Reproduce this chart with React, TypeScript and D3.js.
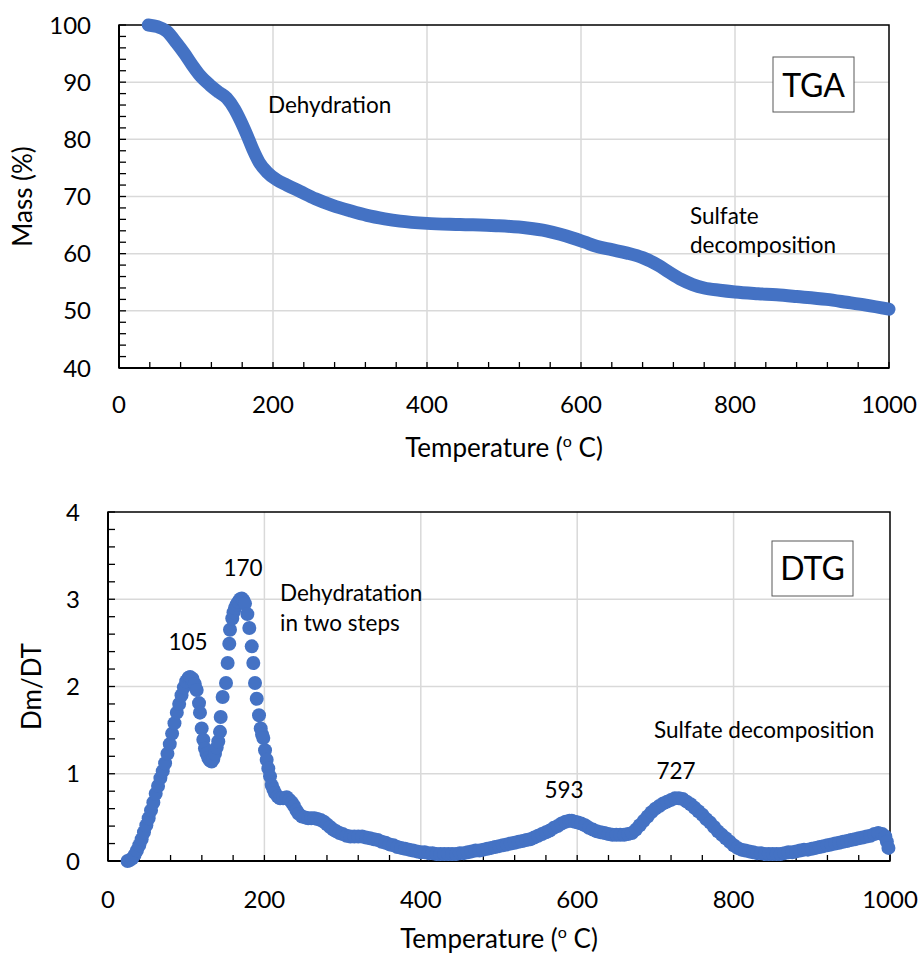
import React from "react";
import * as d3 from "d3";

// ---------- DATA ----------
const tgaTemp = [38, 50, 62, 75, 85, 95, 105, 118, 130, 140, 150, 158, 166, 174, 182, 192, 205, 218, 235, 255, 278, 300, 322, 345, 365, 400, 443, 490, 530, 555, 573, 590, 605, 620, 640, 660, 680, 700, 715, 730, 745, 760, 780, 800, 830, 854, 880, 919, 945, 970, 1000];
const tgaMass = [100, 99.7, 98.9, 96.8, 95.0, 93.0, 91.2, 89.5, 88.2, 87.2, 85.3, 83.2, 80.8, 78.2, 76.0, 74.3, 72.9, 72.0, 70.9, 69.6, 68.4, 67.5, 66.7, 66.1, 65.7, 65.3, 65.1, 64.9, 64.5, 64.0, 63.4, 62.7, 62.0, 61.3, 60.7, 60.1, 59.3, 58.0, 56.7, 55.5, 54.6, 54.0, 53.6, 53.3, 53.0, 52.8, 52.5, 52.0, 51.5, 51.0, 50.3];

const dtgTemp = [25, 28, 31, 34, 37, 40, 43, 46, 49, 52, 55, 58, 61, 64, 67, 70, 73, 76, 79, 82, 85, 88, 91, 94, 97, 100, 103, 105, 108, 111, 113.4, 116.4, 117.6, 119.8, 121.9, 124, 126, 128.3, 130.5, 132.6, 134.7, 136.8, 139, 141, 143.2, 144.1, 146.6, 150.9, 153, 155.1, 156, 158.9, 160.5, 162.4, 164.5, 166.6, 169, 171, 173, 175.2, 178.2, 180.7, 183.8, 185.8, 188, 190.2, 193.1, 195.3, 197, 198.6, 200.8, 202.9, 205, 207.2, 209.3, 211.5, 213.6, 217, 220, 224, 228.5, 232, 235, 238, 241, 244, 248, 252, 256, 260, 264, 268, 272, 276, 280, 284, 288, 292, 296, 300, 305, 310, 315, 320, 325, 330, 335, 340, 345, 350, 355, 360, 365, 370, 375, 380, 385, 390, 395, 400, 405, 410, 415, 420, 425, 430, 435, 440, 445, 450, 455, 460, 465, 470, 475, 480, 485, 490, 495, 500, 505, 510, 515, 520, 525, 530, 535, 540, 545, 550, 555, 560, 565, 570, 575, 580, 585, 590, 593, 597, 601, 605, 610, 615, 620, 625, 630, 635, 640, 645, 650, 655, 660, 665, 670, 675, 680, 685, 690, 695, 700, 705, 710, 715, 720, 725, 730, 735, 740, 745, 750, 755, 760, 765, 770, 775, 780, 785, 790, 795, 800, 805, 810, 815, 820, 825, 830, 835, 840, 845, 850, 855, 860, 865, 870, 875, 880, 885, 890, 895, 900, 905, 910, 915, 920, 925, 930, 935, 940, 945, 950, 955, 960, 965, 970, 975, 980, 985, 990, 994, 996, 998];
const dtgValue = [0.0, 0.01, 0.03, 0.07, 0.12, 0.18, 0.25, 0.33, 0.41, 0.49, 0.58, 0.67, 0.77, 0.86, 0.95, 1.03, 1.12, 1.23, 1.34, 1.46, 1.58, 1.70, 1.80, 1.90, 1.99, 2.06, 2.10, 2.11, 2.09, 2.03, 1.96, 1.81, 1.70, 1.52, 1.39, 1.29, 1.23, 1.18, 1.15, 1.14, 1.17, 1.23, 1.30, 1.37, 1.48, 1.65, 1.88, 2.04, 2.27, 2.49, 2.65, 2.78, 2.85, 2.90, 2.94, 2.97, 3.00, 3.01, 2.99, 2.95, 2.83, 2.67, 2.46, 2.27, 2.04, 1.86, 1.67, 1.52, 1.45, 1.41, 1.27, 1.16, 1.06, 0.97, 0.87, 0.82, 0.78, 0.74, 0.72, 0.72, 0.73, 0.70, 0.67, 0.63, 0.58, 0.54, 0.51, 0.50, 0.49, 0.49, 0.49, 0.48, 0.47, 0.45, 0.42, 0.39, 0.36, 0.34, 0.32, 0.31, 0.29, 0.28, 0.28, 0.28, 0.28, 0.27, 0.26, 0.25, 0.24, 0.22, 0.21, 0.19, 0.18, 0.16, 0.15, 0.14, 0.13, 0.12, 0.11, 0.10, 0.10, 0.09, 0.09, 0.08, 0.08, 0.08, 0.08, 0.08, 0.08, 0.09, 0.09, 0.10, 0.11, 0.12, 0.12, 0.13, 0.14, 0.15, 0.16, 0.17, 0.18, 0.19, 0.20, 0.21, 0.22, 0.23, 0.24, 0.25, 0.27, 0.29, 0.31, 0.33, 0.35, 0.38, 0.40, 0.43, 0.45, 0.46, 0.46, 0.45, 0.44, 0.43, 0.41, 0.38, 0.36, 0.34, 0.33, 0.32, 0.31, 0.30, 0.30, 0.30, 0.30, 0.31, 0.32, 0.36, 0.41, 0.46, 0.51, 0.56, 0.60, 0.63, 0.66, 0.68, 0.70, 0.72, 0.72, 0.71, 0.68, 0.65, 0.61, 0.57, 0.53, 0.48, 0.44, 0.39, 0.34, 0.30, 0.26, 0.22, 0.18, 0.15, 0.13, 0.12, 0.11, 0.10, 0.09, 0.09, 0.08, 0.08, 0.08, 0.08, 0.08, 0.09, 0.10, 0.10, 0.11, 0.12, 0.13, 0.13, 0.14, 0.15, 0.16, 0.17, 0.18, 0.19, 0.20, 0.21, 0.22, 0.23, 0.24, 0.25, 0.26, 0.27, 0.28, 0.29, 0.31, 0.32, 0.31, 0.28, 0.22, 0.15];

const xTicks = [0, 200, 400, 600, 800, 1000];
const tgaYTicks = [40, 50, 60, 70, 80, 90, 100];
const dtgYTicks = [0, 1, 2, 3, 4];

const BLUE = "#4472C4";
const GRID = "#d9d9d9";
const FONT = "Lato, 'Open Sans', sans-serif";
const TITLE_SIZE = 26;
const ANN_SIZE = 22.5;

type Ann = { text: string; x: number; y: number; anchor?: string };

function Panel(props: {
  left: number; right: number; top: number; bottom: number;
  yDomain: [number, number]; yTicks: number[]; yMinorStep: number;
  yTitle: string; yTitleX: number; xTickY: number; xTitleY: number; xTitleX: number;
  children: (x: d3.ScaleLinear<number, number>, y: d3.ScaleLinear<number, number>) => React.ReactNode;
}) {
  const { left, right, top, bottom, yDomain, yTicks, yMinorStep } = props;
  const x = d3.scaleLinear().domain([0, 1000]).range([left, right]);
  const y = d3.scaleLinear().domain(yDomain).range([bottom, top]);
  const xMinor = d3.range(0, 1000.001, 40);
  const yMinor = d3.range(yDomain[0], yDomain[1] + 1e-6, yMinorStep);
  return (
    <g>
      {xTicks.slice(1, -1).map((t) => (
        <line key={"gx" + t} x1={x(t)} x2={x(t)} y1={top} y2={bottom} stroke={GRID} strokeWidth={1.5} />
      ))}
      {yTicks.slice(1, -1).map((t) => (
        <line key={"gy" + t} x1={left} x2={right} y1={y(t)} y2={y(t)} stroke={GRID} strokeWidth={1.5} />
      ))}
      {xMinor.map((t) => (
        <line key={"mx" + t} x1={x(t)} x2={x(t)} y1={bottom} y2={bottom - 6} stroke="#000" strokeWidth={1.3} />
      ))}
      {yMinor.map((t) => (
        <line key={"my" + t} x1={left} x2={left + 7} y1={y(t)} y2={y(t)} stroke="#000" strokeWidth={1.3} />
      ))}
      <rect x={left} y={top} width={right - left} height={bottom - top} fill="none" stroke="#000" strokeWidth={1.5} />
      <line x1={left} x2={left} y1={top} y2={bottom} stroke="#000" strokeWidth={2} />
      <line x1={left} x2={right} y1={bottom} y2={bottom} stroke="#000" strokeWidth={2} />
      {props.children(x, y)}
      {yTicks.map((t) => (
        <text key={"ly" + t} x={left - 28} y={y(t)} dy="0.36em" textAnchor="end" fontSize={24} fontFamily={FONT}>{t}</text>
      ))}
      {xTicks.map((t) => (
        <text key={"lx" + t} x={x(t)} y={props.xTickY} textAnchor="middle" fontSize={24} fontFamily={FONT}>{t}</text>
      ))}
      <text x={props.xTitleX} y={props.xTitleY} textAnchor="middle" fontSize={TITLE_SIZE} fontFamily={FONT}>
        Temperature (<tspan fontSize={16} dy={-10}>o</tspan><tspan dy={10}> C)</tspan>
      </text>
      <text transform={`translate(${props.yTitleX},${(top + bottom) / 2}) rotate(-90)`} textAnchor="middle" dy="0.36em" fontSize={TITLE_SIZE} fontFamily={FONT}>{props.yTitle}</text>
    </g>
  );
}

function Annotations({ items, size }: { items: Ann[]; size: number }) {
  return (
    <g>
      {items.map((a, i) => (
        <text key={i} x={a.x} y={a.y} dy="0.35em" textAnchor={a.anchor || "start"} fontSize={size} fontFamily={FONT}>{a.text}</text>
      ))}
    </g>
  );
}

export default function App() {
  const tgaData = tgaTemp.map((t, i) => [t, tgaMass[i]] as [number, number]);
  const dtgData = dtgTemp.map((t, i) => [t, dtgValue[i]] as [number, number]);
  return (
    <svg width={921} height={955} style={{ position: "absolute", left: 0, top: 0, background: "#fff" }}>
      <rect width={921} height={955} fill="#fff" />
      <Panel left={119} right={889} top={25} bottom={368} yDomain={[40, 100]} yTicks={tgaYTicks} yMinorStep={2}
        yTitle="Mass (%)" yTitleX={23} xTickY={413} xTitleY={457} xTitleX={504}>
        {(x, y) => {
          const line = d3.line<[number, number]>().x((d) => x(d[0])).y((d) => y(d[1])).curve(d3.curveMonotoneX);
          return (
            <g>
              <path d={line(tgaData) || ""} fill="none" stroke={BLUE} strokeWidth={13} strokeLinecap="round" strokeLinejoin="round" />
              <Annotations size={ANN_SIZE} items={[
                { text: "Dehydration", x: 268, y: 105 },
                { text: "Sulfate", x: 690, y: 216 },
                { text: "decomposition", x: 690, y: 245 },
              ]} />
              <rect x={773} y={57} width={81} height={55} fill="#fff" stroke="#595959" strokeWidth={1} />
              <text x={813.5} y={85} dy="0.36em" textAnchor="middle" fontSize={32} fontFamily={FONT}>TGA</text>
            </g>
          );
        }}
      </Panel>
      <Panel left={108} right={890} top={512} bottom={861} yDomain={[0, 4]} yTicks={dtgYTicks} yMinorStep={0.2}
        yTitle="Dm/DT" yTitleX={32} xTickY={908} xTitleY={948} xTitleX={499}>
        {(x, y) => (
          <g>
            {dtgData.map((d, i) => (
              <circle key={i} cx={x(d[0])} cy={y(d[1])} r={7} fill={BLUE} />
            ))}
            <Annotations size={ANN_SIZE} items={[
              { text: "105", x: 188, y: 642, anchor: "middle" },
              { text: "170", x: 243, y: 568, anchor: "middle" },
              { text: "Dehydratation", x: 280, y: 593 },
              { text: "in two steps", x: 280, y: 623 },
              { text: "593", x: 564, y: 790, anchor: "middle" },
              { text: "727", x: 676, y: 771, anchor: "middle" },
              { text: "Sulfate decomposition", x: 654, y: 730 },
            ]} />
            <rect x={772} y={541} width={81} height={55} fill="#fff" stroke="#595959" strokeWidth={1} />
            <text x={812.5} y={568.5} dy="0.36em" textAnchor="middle" fontSize={32} fontFamily={FONT}>DTG</text>
          </g>
        )}
      </Panel>
    </svg>
  );
}
